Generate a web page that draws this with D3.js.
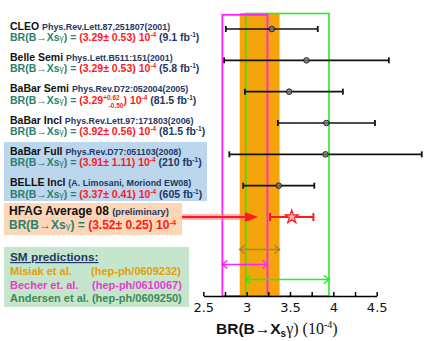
<!DOCTYPE html>
<html><head><meta charset="utf-8">
<script src="https://cdn.jsdelivr.net/npm/d3@7"></script>
<style>body{margin:0;background:#fff}svg{display:block}</style>
</head><body>
<svg id="c" width="436" height="341"></svg>
<script>
// ---------- data ----------
const experiments = ["CLEO","Belle Semi","BaBar Semi","BaBar Incl","BaBar Full","BELLE Incl","HFAG Average 08"];
const references = ["Phys.Rev.Lett.87,251807(2001)","Phys.Lett.B511:151(2001)","Phys.Rev.D72:052004(2005)","Phys.Rev.Lett.97:171803(2006)","Phys.Rev.D77:051103(2008)","(A. Limosani, Moriond EW08)","(preliminary)"];
const quotedValue = ["3.29","3.29","3.29","3.92","3.91","3.37","3.52"];
const quotedError = ["0.53","0.53","","0.56","1.11","0.41","0.25"];
const quotedErrUp = ["","","+0.62","","","",""];
const quotedErrDown = ["","","-0.50","","","",""];
const luminosity = ["9.1","5.8","81.5","81.5","210","605",""];
const centralValue = [3.29, 3.69, 3.49, 3.92, 3.91, 3.37, 3.52];
const lowerEdge   = [2.76, 2.74, 2.98, 3.36, 2.80, 2.96, 3.27];
const upperEdge   = [3.82, 4.64, 4.11, 4.48, 5.02, 3.78, 3.77];

const smAuthors = ["Misiak et al.","Becher et. al.","Andersen et al."];
const smRefs = ["(hep-ph/0609232)","(hep-ph/0610067)","(hep-ph/0609250)"];
const smLow  = [2.92, 2.72, 2.99];
const smHigh = [3.38, 3.24, 3.95];

const tickValues = [2.5, 2.75, 3, 3.25, 3.5, 3.75, 4, 4.25, 4.5];

// ---------- styles ----------
const SANS = "'Liberation Sans', Arial, sans-serif";
const SERIF = "'Liberation Serif', 'Times New Roman', serif";
const TEAL = "#2a7f6f", RED = "#ff1a1a", NAVY = "#1f3864";
const smColors = ["#f5a40a", "#ff22ff", "#22ee22"];
const smText = ["#e3a000", "#e43ccf", "#3a8a5a"];
const smArrow = ["#a8862a", "#ff22ff", "#22ee22"];

const svg = d3.select("#c");
const x = d3.scaleLinear().domain([2.5, 4.5]).range([203.3, 376.7]);
const y = d3.scalePoint().domain(experiments).range([29, 217]);
const axisY = 296;

// ---------- left boxes ----------
svg.append("rect").attr("x",4).attr("y",142).attr("width",203).attr("height",59).attr("fill","#bcd6ee");
svg.append("rect").attr("x",4).attr("y",203).attr("width",178).attr("height",32).attr("fill","#fcd6b6");
svg.append("rect").attr("x",4).attr("y",247).attr("width",185).attr("height",60).attr("fill","#c6e5cd");

// ---------- SM bands ----------
const g = svg.append("g");
g.append("rect").attr("x", x(smLow[0])).attr("y", 13).attr("width", x(smHigh[0]) - x(smLow[0]))
  .attr("height", axisY - 13).attr("fill", smColors[0]);
g.append("rect").attr("x", x(smLow[2])).attr("y", 13.5).attr("width", x(smHigh[2]) - x(smLow[2]))
  .attr("height", axisY - 13.5).attr("fill", "none").attr("stroke", smColors[2]).attr("stroke-width", 1.6);
g.append("rect").attr("x", x(smLow[1])).attr("y", 14.8).attr("width", x(smHigh[1]) - x(smLow[1]))
  .attr("height", axisY - 14.8).attr("fill", "none").attr("stroke", smColors[1]).attr("stroke-width", 1.8);

const arrowY = [249.5, 264.5, 279.5];
smLow.forEach((lo, i) => {
  const x0 = x(lo), x1 = x(smHigh[i]), yy = arrowY[i], c = smArrow[i];
  const a = g.append("g").attr("stroke", c).attr("fill", "none").attr("stroke-width", 1.5);
  a.append("line").attr("x1", x0).attr("x2", x1).attr("y1", yy).attr("y2", yy);
  a.append("path").attr("d", `M${x0+5},${yy-4}L${x0},${yy}L${x0+5},${yy+4}`);
  a.append("path").attr("d", `M${x1-5},${yy-4}L${x1},${yy}L${x1-5},${yy+4}`);
});

// ---------- error bars ----------
const bars = svg.append("g");
experiments.forEach((e, i) => {
  const yy = y(e);
  const isAvg = i === experiments.length - 1;
  const col = isAvg ? RED : "#111";
  const lw = isAvg ? 1.8 : 1.6;
  const cap = isAvg ? 4 : 3;
  bars.append("line").attr("x1", x(lowerEdge[i])).attr("x2", x(upperEdge[i])).attr("y1", yy).attr("y2", yy)
    .attr("stroke", col).attr("stroke-width", lw);
  [lowerEdge[i], upperEdge[i]].forEach(v => {
    bars.append("line").attr("x1", x(v)).attr("x2", x(v)).attr("y1", yy - cap).attr("y2", yy + cap)
      .attr("stroke", col).attr("stroke-width", isAvg ? 2 : 1.8);
  });
  if (isAvg) {
    bars.append("path").attr("d", d3.symbol(d3.symbolStar, 55)())
      .attr("transform", `translate(${x(centralValue[i])},${yy})`)
      .attr("fill", "#ffb3b3").attr("stroke", RED).attr("stroke-width", 1.2);
  } else {
    bars.append("circle").attr("cx", x(centralValue[i])).attr("cy", yy).attr("r", 2.8)
      .attr("fill", "#777").attr("fill-opacity", 0.75).attr("stroke", "#222").attr("stroke-width", 1);
  }
});

// ---------- red arrow ----------
const avgY = y(experiments[6]);
const arrowEnd = x(3.13);
svg.append("line").attr("x1", 182).attr("x2", arrowEnd - 10).attr("y1", avgY).attr("y2", avgY)
  .attr("stroke", "#ff8080").attr("stroke-opacity", 0.6).attr("stroke-width", 6);
svg.append("line").attr("x1", 182).attr("x2", arrowEnd - 10).attr("y1", avgY).attr("y2", avgY)
  .attr("stroke", RED).attr("stroke-width", 2);
svg.append("path").attr("d", `M${arrowEnd-13},${avgY-5}L${arrowEnd},${avgY}L${arrowEnd-13},${avgY+5}Z`).attr("fill", RED);

// ---------- x axis ----------
const axis = d3.axisBottom(x).tickValues(tickValues).tickSizeInner(-4).tickSizeOuter(0).tickPadding(7)
  .tickFormat(d => (d * 2) % 1 === 0 ? d3.format("~g")(d) : "");
const ax = svg.append("g").attr("transform", `translate(0,${axisY})`).call(axis);
ax.select(".domain").attr("stroke", "#000").attr("stroke-width", 1.5);
ax.selectAll(".tick line").attr("stroke", "#000").attr("stroke-width", 1.5);
ax.selectAll(".tick text").attr("font-family", "'DejaVu Sans', sans-serif").attr("font-size", 13).attr("fill", "#111");

const xl = svg.append("text").attr("x", 216).attr("y", 334).attr("font-family", SANS).attr("font-weight", "bold")
  .attr("font-size", 15.5).attr("fill", "#111");
xl.append("tspan").text("BR(B\u2192X");
xl.append("tspan").attr("font-size", 10).attr("dy", 3).text("s");
xl.append("tspan").attr("dy", -3).attr("font-family", SERIF).attr("font-weight", "normal").attr("font-size", 16).text("\u03B3) (10");
xl.append("tspan").attr("dy", -6).attr("font-family", SERIF).attr("font-weight", "normal").attr("font-size", 10).text("-4");
xl.append("tspan").attr("dy", 6).attr("font-family", SERIF).attr("font-weight", "normal").attr("font-size", 16).text(")");

// ---------- left texts ----------
const tx = svg.append("g").attr("font-family", SANS).attr("font-weight", "bold");
experiments.forEach((e, i) => {
  const yy = y(e);
  const isAvg = i === experiments.length - 1;
  const base1 = isAvg ? yy - 2 : yy + 0.5;
  const base2 = isAvg ? yy + 11.5 : yy + 12;
  const t1 = tx.append("text").attr("x", isAvg ? 9 : 10).attr("y", base1);
  t1.append("tspan").attr("font-size", isAvg ? 12 : 10.5).attr("fill", "#111").text(e + " ");
  t1.append("tspan").attr("font-size", isAvg ? 9.4 : 8.9).attr("fill", NAVY).text(references[i]);

  const fs = isAvg ? 12 : 10.5;
  const sup = isAvg ? 7.5 : 6.5;
  const t2 = tx.append("text").attr("x", isAvg ? 9 : 10).attr("y", base2).attr("font-size", fs);
  t2.append("tspan").attr("fill", TEAL).text("BR(B\u2192Xs");
  t2.append("tspan").attr("fill", TEAL).attr("font-size", fs * 0.8).attr("font-weight", "normal").text("\u03B3");
  t2.append("tspan").attr("fill", TEAL).text(") = ");
  if (quotedError[i]) {
    t2.append("tspan").attr("fill", RED).text("(" + quotedValue[i] + "\u00B1 " + quotedError[i] + ") 10");
  } else {
    t2.append("tspan").attr("fill", RED).text("(" + quotedValue[i]);
    t2.append("tspan").attr("fill", RED).attr("font-size", sup).attr("dy", -4).text(quotedErrUp[i]);
    t2.append("tspan").attr("fill", RED).attr("font-size", sup).attr("dy", 8).attr("dx", -11).text(quotedErrDown[i]);
    t2.append("tspan").attr("fill", RED).attr("dy", -4).text(") 10");
  }
  t2.append("tspan").attr("fill", RED).attr("font-size", sup).attr("dy", -4).text("-4");
  if (luminosity[i]) {
    t2.append("tspan").attr("fill", NAVY).attr("dy", 4).text(" (" + luminosity[i] + " fb");
    t2.append("tspan").attr("fill", NAVY).attr("font-size", sup).attr("dy", -4).text("-1");
    t2.append("tspan").attr("fill", NAVY).attr("dy", 4).text(")");
  }
});

// SM predictions text
const sm = svg.append("g").attr("font-family", SANS).attr("font-weight", "bold").attr("font-size", 11);
sm.append("text").attr("x", 10).attr("y", 261).attr("fill", NAVY).attr("font-size", 11.8)
  .attr("text-decoration", "underline").text("SM predictions:");
const smRefX = [91, 92, null];
smAuthors.forEach((a, i) => {
  const yy = 275 + i * 13.5;
  if (smRefX[i] === null) {
    sm.append("text").attr("x", 10).attr("y", yy).attr("fill", smText[i]).text(a + " " + smRefs[i]);
  } else {
    sm.append("text").attr("x", 10).attr("y", yy).attr("fill", smText[i]).text(a);
    sm.append("text").attr("x", smRefX[i]).attr("y", yy).attr("fill", smText[i]).text(smRefs[i]);
  }
});
</script>
</body></html>
